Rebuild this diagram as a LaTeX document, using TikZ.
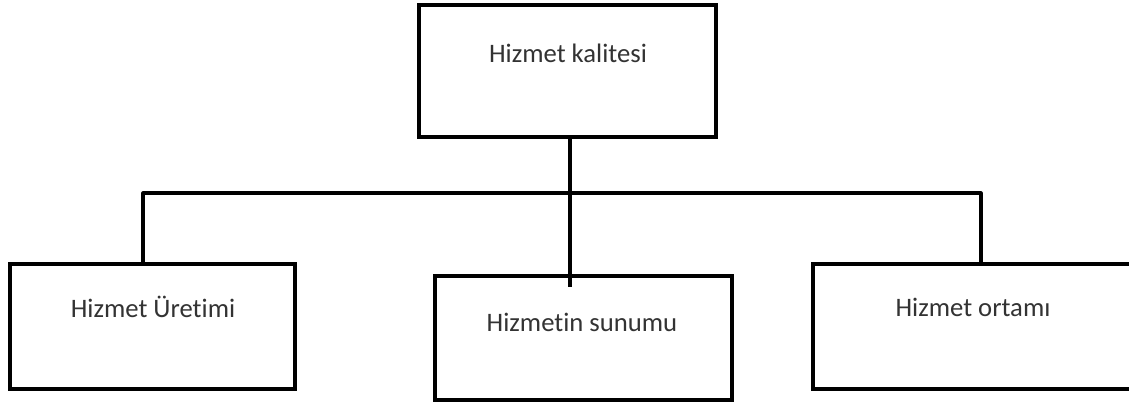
\documentclass[tikz,border=0pt]{standalone}
\usepackage{fontspec}
\setmainfont{Carlito}[Ligatures={NoCommon}]
\begin{document}
\begin{tikzpicture}[x=0.75pt,y=-0.75pt,
  box/.style={draw=black,line width=2.3pt,fill=white,anchor=north west,inner sep=0pt,outer sep=0pt},
  lbl/.style={font=\fontsize{20}{22}\selectfont,text=black!80,inner sep=0pt},
  conn/.style={draw=black,line width=2.3pt,line join=round}]
\useasboundingbox (0,0) rectangle (1129,403);
\clip (0,0) rectangle (1129,403);
\node[box,minimum width=222.75pt,minimum height=99pt] (top) at (419,5) {};
\node[box,minimum width=213.75pt,minimum height=93.75pt] (left) at (10,264) {};
\node[box,minimum width=222.75pt,minimum height=93pt] (mid) at (435,276) {};
\node[box,minimum width=255pt,minimum height=93.75pt] (right) at (813,264) {};
\node[lbl] (ttop) at (568,53) {Hizmet kalitesi};
\node[lbl] (tleft) at (153,307) {Hizmet Üretimi};
\node[lbl] (tmid) at (582,322) {Hizmetin sunumu};
\node[lbl] (tright) at (973,307) {Hizmet ortamı};
\coordinate (bl) at (143,193);
\coordinate (bm) at (570,193);
\coordinate (br) at (981,193);
\coordinate (mend) at (570,287);
\draw[conn] (bl |- left.north) -- (bl) -- (br) -- (br |- right.north);
\draw[conn] (bm |- top.south) -- (mend);
\end{tikzpicture}
\end{document}
